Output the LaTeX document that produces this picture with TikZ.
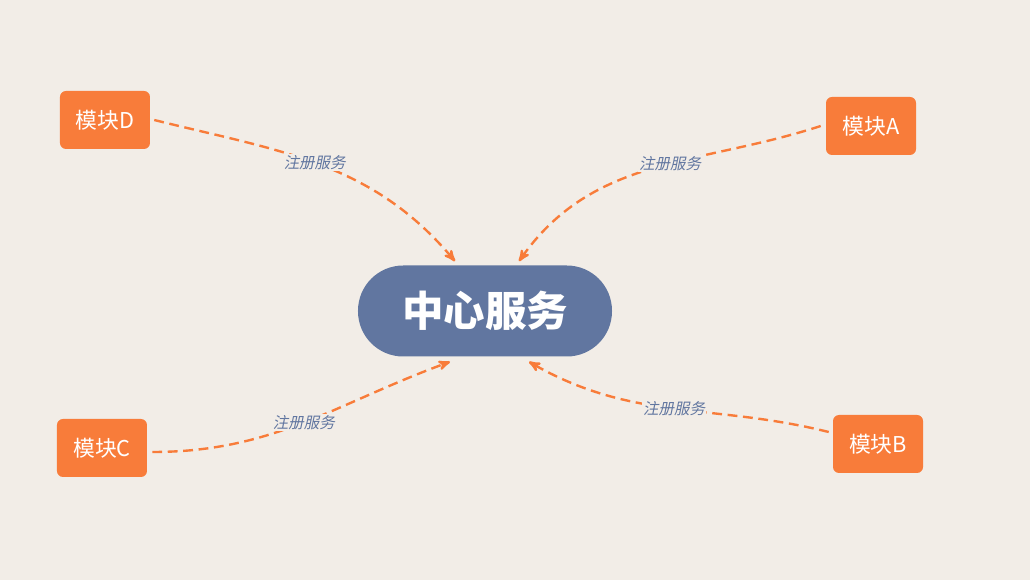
\documentclass[tikz,border=0pt]{standalone}
\usepackage{fontspec}
\setmainfont{Noto Sans CJK SC}
\newfontfamily\tagfont[FakeSlant=0.2]{Noto Sans CJK SC}
\usetikzlibrary{positioning}
\usetikzlibrary{arrows}
\definecolor{paper}{RGB}{242,237,231}
\definecolor{tangerine}{RGB}{248,124,58}
\definecolor{slate}{RGB}{97,118,160}
\tikzset{
    on grid,
    module/.style={
        rectangle,
        rounded corners=0.15cm,
        fill=tangerine,
        text=white,
        minimum width=2.25cm,
        minimum height=1.45cm,
        font=\fontsize{15.5}{18}\selectfont
    },
    hub/.style={
        rectangle,
        rounded corners=1.13cm,
        fill=slate,
        text=white,
        minimum width=6.35cm,
        minimum height=2.275cm,
        font=\bfseries\fontsize{29.5}{34}\selectfont
    },
    tag/.style={
        fill=paper,
        text=slate,
        inner sep=1pt,
        font=\tagfont\fontsize{11}{13}\selectfont
    },
    every edge/.append style={
        draw=tangerine,
        ->,>=stealth',
        line width=1.7pt,
        dash pattern=on 7pt off 4pt
    }
}

\begin{document}
\begin{tikzpicture}
                \fill[paper] (-12.125,-6.725) rectangle (13.625,7.775);
                \node[hub] (hub) {中心服务};
                \node[module, above right=4.625cm and 9.65cm of hub] (modA) {模块A};
                \node[module, below right=3.325cm and 9.825cm of hub] (modB) {模块B};
                \node[module, below left=3.425cm and 9.575cm of hub] (modC) {模块C};
                \node[module, above left=4.775cm and 9.5cm of hub] (modD) {模块D};
                \draw ([xshift=0.1cm]modD.east) edge[out=-14, in=130] node[tag, pos=0.48] {注册服务} ([xshift=-0.75cm, yshift=0.1cm]hub.north);
                \draw ([xshift=-0.125cm]modA.west) edge[out=198, in=55] node[tag, pos=0.44] {注册服务} ([xshift=0.85cm, yshift=0.1cm]hub.north);
                \draw ([xshift=0.125cm, yshift=-0.1cm]modC.east) edge[out=0, in=200] node[tag] {注册服务} ([xshift=-0.875cm, yshift=-0.125cm]hub.south);
                \draw ([xshift=-0.1cm, yshift=0.3cm]modB.west) edge[out=166, in=-30] node[tag] {注册服务} ([xshift=1.1cm, yshift=-0.125cm]hub.south);
            \end{tikzpicture}
\end{document}
